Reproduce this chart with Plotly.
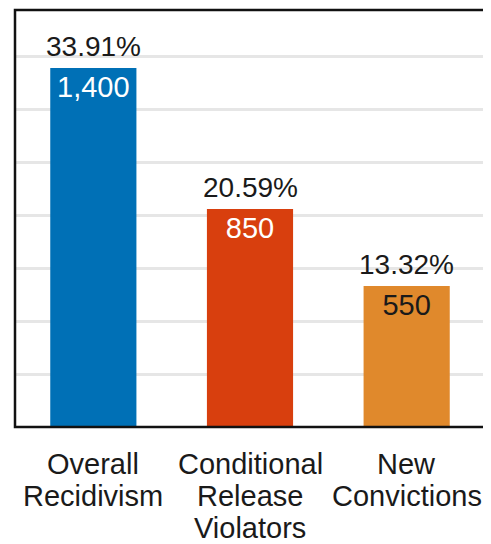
import plotly.graph_objects as go

categories = ["Overall Recidivism", "Conditional Release Violators", "New Convictions"]
category_lines = [["Overall", "Recidivism"], ["Conditional", "Release", "Violators"], ["New", "Convictions"]]
percent_values = [33.91, 20.59, 13.32]
count_values = [1400, 850, 550]
bar_colors = ["#0070b6", "#d83f0e", "#e0892c"]
count_text_colors = ["#ffffff", "#ffffff", "#1a1a1a"]

FONT = "Liberation Sans, Arial, sans-serif"

fig = go.Figure()
fig.add_trace(go.Bar(
    x=categories,
    y=percent_values,
    width=0.55,
    marker=dict(color=bar_colors, line=dict(width=0)),
    text=[f"{c:,}" for c in count_values],
    textposition="inside",
    insidetextanchor="end",
    textangle=0,
    textfont=dict(family=FONT, size=29, color=count_text_colors),
    cliponaxis=False,
    hoverinfo="skip",
))

annotations = []
for cat, pct in zip(categories, percent_values):
    annotations.append(dict(
        x=cat, y=pct, xref="x", yref="y", text=f"{pct:.2f}%",
        showarrow=False, yanchor="bottom", yshift=4,
        font=dict(family=FONT, size=28, color="#1a1a1a"),
    ))
for cat, lines in zip(categories, category_lines):
    for i, line in enumerate(lines):
        annotations.append(dict(
            x=cat, y=0, xref="x", yref="y", text=line,
            showarrow=False, yanchor="top", yshift=-19 - 32 * i,
            font=dict(family=FONT, size=29, color="#1a1a1a"),
        ))

fig.update_layout(
    width=483, height=536,
    margin=dict(l=7, r=6, t=2, b=117),
    paper_bgcolor="white",
    plot_bgcolor="white",
    showlegend=False,
    bargap=0.45,
    font=dict(family=FONT, size=28, color="#1a1a1a"),
    annotations=annotations,
    uniformtext=dict(mode=False),
    shapes=[dict(type="rect", xref="paper", yref="paper", x0=0, x1=1, y0=0, y1=1,
                 line=dict(color="#111111", width=2.5), layer="above")],
)
fig.update_xaxes(
    showticklabels=False, ticks="", showgrid=False, showline=False,
)
fig.update_yaxes(
    range=[0, 39.4], dtick=5, showticklabels=False, ticks="",
    showgrid=True, gridcolor="#e6e6e6", gridwidth=3, zeroline=False, showline=False,
)

fig.write_html("out.html")
